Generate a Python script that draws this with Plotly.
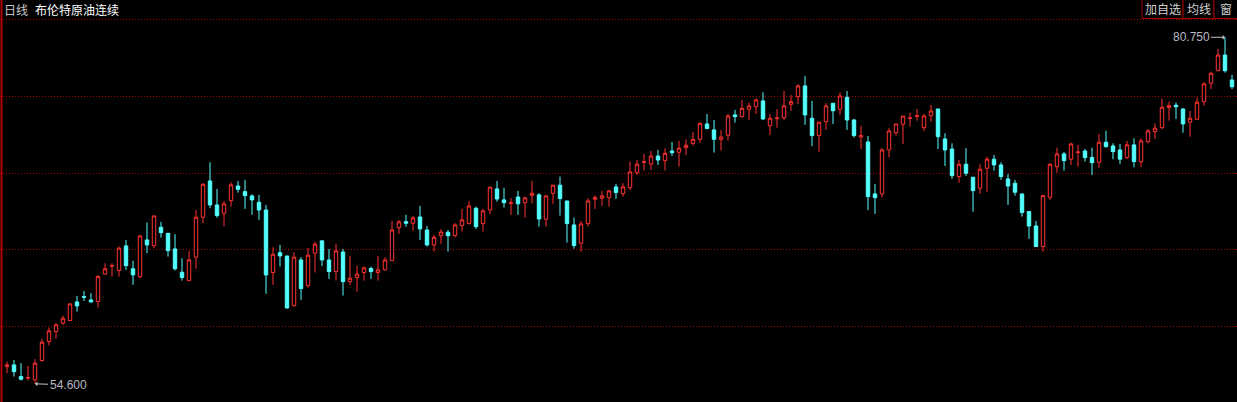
import plotly.graph_objects as go

# Daily candles, Brent crude continuous
day_index = list(range(176))

opens = [55.90, 56.03, 55.15, 55.03, 54.90, 56.36, 57.79, 58.55, 59.18, 59.38,
         60.78, 61.18, 60.93, 60.81, 62.88, 63.48, 63.15, 65.01, 63.28, 62.69,
         65.46, 65.03, 66.42, 65.96, 64.78, 63.02, 62.39, 64.16, 67.17, 69.91,
         68.10, 67.47, 68.42, 69.53, 69.10, 68.78, 68.30, 67.72, 63.00, 64.50,
         64.25, 60.50, 63.95, 62.01, 64.46, 65.39, 63.95, 63.07, 64.55, 62.31,
         62.62, 63.00, 63.30, 63.00, 63.20, 63.90, 66.39, 66.84, 66.72, 67.19,
         66.21, 65.08, 65.78, 66.04, 65.78, 66.54, 66.69, 67.85, 66.69, 67.72,
         69.31, 68.48, 68.21, 68.70, 68.27, 68.83, 68.86, 67.02, 68.98, 69.59,
         68.40, 66.59, 65.21, 66.69, 68.53, 68.61, 68.65, 69.46, 68.95, 69.40,
         70.54, 71.30, 71.19, 71.79, 71.44, 72.17, 72.08, 72.42, 72.75, 73.05,
         74.21, 73.76, 73.05, 73.36, 74.89, 74.76, 75.32, 75.51, 75.95, 74.08,
         74.62, 74.68, 75.70, 76.27, 77.08, 74.64, 73.33, 74.38, 75.77, 75.32,
         76.22, 74.51, 73.23, 72.85, 68.93, 68.93, 72.25, 73.55, 74.19, 74.62,
         74.79, 73.93, 74.83, 75.34, 73.08, 72.32, 70.24, 71.17, 70.19, 69.36,
         70.87, 71.55, 71.12, 70.06, 69.74, 68.93, 67.60, 66.51, 64.96, 68.68,
         70.99, 71.95, 71.55, 72.05, 72.17, 71.67, 71.32, 72.83, 72.55, 72.25,
         71.67, 72.63, 71.37, 72.87, 73.63, 73.93, 75.44, 75.62, 75.34, 74.34,
         74.56, 75.89, 77.28, 78.23, 79.41, 77.53]

highs = [56.28, 56.41, 56.16, 55.96, 56.46, 58.00, 58.85, 59.18, 59.73, 60.68,
         61.24, 61.61, 61.44, 62.82, 63.70, 63.70, 64.96, 65.46, 63.88, 65.84,
         66.77, 67.27, 66.82, 65.96, 65.89, 64.08, 64.63, 67.72, 69.74, 71.32,
         69.31, 68.40, 69.81, 69.91, 69.99, 68.90, 68.86, 68.10, 64.91, 65.08,
         64.25, 64.53, 64.16, 64.86, 65.31, 65.39, 64.78, 65.16, 64.78, 64.25,
         63.50, 63.45, 63.45, 64.25, 64.16, 66.89, 66.97, 67.35, 67.27, 68.02,
         66.51, 65.84, 66.27, 66.21, 66.72, 67.80, 68.40, 67.97, 67.80, 69.44,
         69.91, 69.40, 68.61, 69.16, 68.73, 69.91, 68.98, 68.86, 69.59, 70.24,
         68.40, 67.14, 66.89, 68.61, 68.83, 69.16, 69.23, 69.69, 69.74, 71.37,
         71.49, 71.95, 72.17, 72.25, 72.38, 72.85, 72.93, 73.05, 73.61, 74.31,
         74.96, 74.51, 73.76, 74.96, 75.27, 76.02, 75.82, 76.15, 76.60, 74.96,
         75.34, 76.70, 76.40, 77.20, 77.83, 75.95, 74.34, 75.77, 75.77, 76.60,
         76.70, 74.59, 74.06, 73.30, 69.69, 72.38, 73.89, 74.21, 74.81, 75.06,
         75.34, 74.96, 75.64, 75.34, 73.51, 72.75, 71.49, 72.38, 70.19, 71.17,
         71.74, 71.87, 71.32, 70.44, 69.99, 68.93, 67.60, 66.89, 68.86, 71.24,
         72.42, 72.10, 72.80, 72.63, 72.32, 72.42, 73.45, 73.70, 72.75, 72.70,
         72.93, 73.13, 73.13, 73.83, 74.26, 76.10, 75.89, 75.82, 75.39, 75.19,
         76.22, 77.36, 78.15, 79.87, 80.75, 77.91]

lows = [55.40, 55.15, 54.85, 54.85, 54.60, 56.28, 57.49, 58.00, 59.05, 59.35,
        60.05, 60.86, 60.73, 60.35, 62.82, 62.69, 62.69, 63.20, 62.07, 62.57,
        64.46, 64.84, 65.63, 64.20, 63.15, 62.39, 62.36, 63.28, 66.72, 67.85,
        67.14, 66.46, 67.97, 69.03, 67.80, 67.35, 66.97, 61.39, 62.07, 63.45,
        60.26, 60.43, 60.93, 61.86, 63.00, 63.50, 62.52, 62.39, 61.26, 62.07,
        61.56, 62.39, 62.52, 62.39, 63.15, 63.90, 65.91, 66.46, 66.16, 65.46,
        64.96, 64.58, 65.16, 64.58, 65.66, 66.09, 66.64, 66.27, 66.09, 67.40,
        68.35, 67.90, 67.35, 67.35, 67.14, 68.23, 66.46, 66.46, 68.18, 67.29,
        65.26, 64.80, 64.58, 66.46, 67.80, 68.02, 67.97, 68.55, 68.73, 69.23,
        70.36, 70.69, 70.74, 71.12, 70.69, 71.80, 70.99, 71.87, 72.57, 72.80,
        73.84, 72.05, 72.20, 72.95, 74.31, 74.68, 74.51, 74.96, 74.51, 73.38,
        73.93, 74.51, 75.21, 75.72, 74.14, 72.55, 72.12, 73.76, 74.21, 74.89,
        73.76, 73.18, 72.32, 67.72, 67.42, 68.65, 71.69, 73.33, 72.70, 74.01,
        74.46, 73.68, 74.38, 72.32, 71.04, 70.06, 69.78, 70.29, 67.59, 68.93,
        69.10, 70.69, 69.99, 68.10, 68.80, 67.22, 65.54, 64.96, 64.58, 68.48,
        70.54, 70.69, 71.12, 70.99, 71.37, 70.36, 70.91, 72.42, 71.55, 71.17,
        71.55, 70.94, 70.94, 72.75, 73.08, 73.81, 74.46, 74.59, 73.55, 73.25,
        74.56, 75.59, 76.85, 78.23, 78.08, 76.85]

closes = [56.03, 55.52, 54.95, 55.07, 56.16, 57.74, 58.60, 59.05, 59.55, 60.63,
          60.48, 61.14, 60.78, 62.69, 63.28, 63.52, 64.84, 63.52, 62.82, 65.76,
          65.08, 67.27, 66.01, 64.65, 63.28, 62.62, 63.95, 67.17, 69.66, 68.10,
          67.29, 68.18, 69.61, 69.28, 68.80, 68.48, 67.72, 62.82, 64.38, 64.25,
          60.33, 64.16, 61.79, 64.31, 65.14, 63.95, 63.07, 64.63, 62.31, 62.57,
          62.88, 63.35, 63.07, 63.20, 63.95, 66.21, 66.82, 66.72, 67.12, 66.29,
          65.08, 65.66, 66.06, 65.78, 66.59, 66.97, 68.02, 66.46, 67.65, 69.44,
          68.55, 68.27, 68.25, 68.18, 68.63, 68.98, 67.04, 68.78, 69.59, 68.58,
          66.69, 65.03, 66.67, 68.40, 68.65, 68.78, 69.16, 69.03, 69.46, 70.59,
          71.17, 71.35, 71.79, 71.49, 71.99, 72.04, 72.38, 72.60, 73.05, 74.26,
          73.86, 73.05, 73.22, 74.81, 74.76, 75.39, 75.57, 76.02, 74.59, 74.64,
          74.66, 75.57, 75.89, 77.08, 74.89, 73.33, 74.34, 75.57, 75.21, 76.32,
          74.51, 73.33, 73.33, 68.73, 68.65, 72.25, 73.68, 74.21, 74.81, 74.66,
          74.83, 74.81, 75.19, 73.25, 72.25, 70.31, 71.17, 70.49, 69.18, 70.79,
          71.55, 71.12, 70.24, 69.53, 69.06, 67.52, 66.51, 64.96, 68.80, 71.17,
          71.95, 71.44, 72.70, 72.09, 71.67, 71.29, 72.83, 72.50, 72.12, 71.55,
          72.63, 71.37, 72.93, 73.68, 73.89, 75.47, 75.59, 75.51, 74.21, 74.64,
          75.85, 77.23, 78.03, 79.41, 78.23, 77.02]

grid_levels = [58.90, 64.71, 70.49, 76.30]
title_period = "日线"
title_name = "布伦特原油连续"
buttons = ["加自选", "均线", "窗"]

UP = "#ff3232"
DOWN = "#54ffff"
GRID = "#a80000"
W, H = 1237, 402
TOP = 20

fig = go.Figure(go.Candlestick(
    x=day_index, open=opens, high=highs, low=lows, close=closes,
    increasing=dict(line=dict(color=UP, width=1), fillcolor="#000000"),
    decreasing=dict(line=dict(color=DOWN, width=1), fillcolor=DOWN),
    whiskerwidth=0, hoverinfo="skip", showlegend=False,
))

hi_i = max(range(len(highs)), key=lambda i: highs[i])
lo_i = min(range(len(lows)), key=lambda i: lows[i])

def py(pix):  # pixel from top -> paper y
    return (H - pix) / (H - TOP)

def px(pix):
    return pix / W

shapes = [
    dict(type="line", xref="paper", yref="paper", x0=0, x1=1, y0=py(19.5), y1=py(19.5),
         line=dict(color=GRID, width=1, dash="1px,2px")),
    dict(type="line", xref="paper", yref="paper", x0=px(1.5), x1=px(1.5), y0=py(0), y1=py(H),
         line=dict(color="#b00000", width=2)),
]
edges = [1142, 1183, 1214, 1238]
for k in range(3):
    shapes.append(dict(type="rect", xref="paper", yref="paper",
                       x0=px(edges[k]), x1=px(edges[k + 1]), y0=py(18.5), y1=py(-1),
                       line=dict(color="#a00000", width=1), fillcolor="#000000"))

annotations = [
    dict(text=title_period, xref="paper", yref="paper", x=px(2), y=py(9.5),
         xanchor="left", yanchor="middle", showarrow=False,
         font=dict(family="Noto Sans CJK SC", size=12, color="#c8c8c8")),
    dict(text=title_name, xref="paper", yref="paper", x=px(33), y=py(9.5),
         xanchor="left", yanchor="middle", showarrow=False,
         font=dict(family="Noto Sans CJK SC", size=12, color="#ffffff")),
    dict(text=f"{highs[hi_i]:.3f}", x=day_index[hi_i], y=highs[hi_i], xref="x", yref="y",
         showarrow=True, ax=-34, ay=0, arrowhead=1, arrowsize=0.8, arrowwidth=1,
         arrowcolor="#c8c8c8", standoff=0,
         font=dict(family="Liberation Sans", size=12, color="#b8b8c0")),
    dict(text=f"{lows[lo_i]:.3f}", x=day_index[lo_i], y=lows[lo_i], xref="x", yref="y",
         showarrow=True, ax=33, ay=1, arrowhead=1, arrowsize=0.8, arrowwidth=1,
         arrowcolor="#c8c8c8", standoff=0,
         font=dict(family="Liberation Sans", size=12, color="#b8b8c0")),
]
for k, b in enumerate(buttons):
    annotations.append(dict(text=b, xref="paper", yref="paper",
                            x=px((edges[k] + min(edges[k + 1], W)) / 2), y=py(9),
                            xanchor="center", yanchor="middle", showarrow=False,
                            font=dict(family="Noto Sans CJK SC", size=12, color="#d0d0d0")))

fig.update_layout(
    width=W, height=H, margin=dict(l=0, r=0, t=TOP, b=0),
    paper_bgcolor="#000000", plot_bgcolor="#000000",
    boxgap=0.3, showlegend=False, hovermode=False,
    xaxis=dict(range=[-1, -1 + W / 7], visible=False, rangeslider=dict(visible=False)),
    yaxis=dict(range=[53.23, 82.054], tickvals=grid_levels, showticklabels=False,
               gridcolor=GRID, griddash="1px,2px", gridwidth=1, zeroline=False,
               showline=False, ticks=""),
    shapes=shapes, annotations=annotations,
)

fig.write_html("out.html", config={"displayModeBar": False})

# remove the browser's default page margin so the chart fills the window
with open("out.html", encoding="utf-8") as f:
    page = f.read()
page = page.replace("<head>", "<head><style>html,body{margin:0;padding:0;overflow:hidden;background:#000;}</style>", 1)
with open("out.html", "w", encoding="utf-8") as f:
    f.write(page)
